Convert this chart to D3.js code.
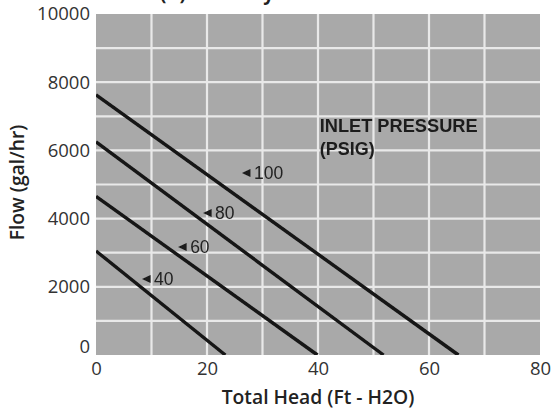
<!DOCTYPE html>
<html>
<head>
<meta charset="utf-8">
<script src="https://cdn.jsdelivr.net/npm/d3@7/dist/d3.min.js"></script>
<style>
  html, body { margin: 0; padding: 0; background: #ffffff; }
  svg { display: block; }
</style>
</head>
<body>
<svg id="chart" width="556" height="411"></svg>
<script>
// ---- data ----
const pressures = [40, 60, 80, 100];               // inlet pressure (PSIG)
const headAtZeroFlow = [23.3, 39.9, 51.8, 65.3];   // total head where flow reaches 0
const flowAtZeroHead = [3050, 4650, 6250, 7630];   // flow at zero head (gal/hr)
const labelHead = [8.3, 14.8, 19.3, 26.3];          // label anchor (head)
const labelFlow = [2230, 3170, 4165, 5335];         // label anchor (flow)
const xTicks = [0, 20, 40, 60, 80];
const yTicks = [0, 2000, 4000, 6000, 8000, 10000];
const xGrid = [10, 20, 30, 40, 50, 60, 70];
const yGrid = [1000, 2000, 3000, 4000, 5000, 6000, 7000, 8000, 9000];

const series = pressures.map((p, i) => ({
  pressure: p,
  points: [{ head: 0, flow: flowAtZeroHead[i] }, { head: headAtZeroFlow[i], flow: 0 }]
}));

// ---- layout ----
const svg = d3.select("#chart");
const m = { left: 96, top: 14, right: 16, bottom: 56 };
const W = 556, H = 411;
const x = d3.scaleLinear().domain([0, 80]).range([m.left, W - m.right]);
const y = d3.scaleLinear().domain([0, 10000]).range([H - m.bottom, m.top]);

const defs = svg.append("defs");
defs.append("filter").attr("id", "soft").append("feGaussianBlur").attr("stdDeviation", 0.7);
defs.append("clipPath").attr("id", "plotclip").append("rect")
  .attr("x", x(0)).attr("y", y(10000)).attr("width", x(80) - x(0)).attr("height", y(0) - y(10000));

// title (mostly above the visible area, as in the reference)
svg.append("text")
  .attr("x", 214).attr("y", -0.5)
  .attr("text-anchor", "middle")
  .attr("font-family", "Open Sans, sans-serif").attr("font-weight", 700)
  .attr("font-size", 19).attr("fill", "#222")
  .text("Curve (A) - Flow by Head");

const plot = svg.append("g").attr("clip-path", "url(#plotclip)");
plot.append("rect")
  .attr("x", x(0)).attr("y", y(10000)).attr("width", x(80) - x(0)).attr("height", y(0) - y(10000))
  .attr("fill", "#a9a9a9");

const grid = plot.append("g").attr("filter", "url(#soft)").attr("stroke", "#e9e9e9").attr("stroke-width", 2.2);
grid.selectAll("line.v").data(xGrid).join("line").attr("class", "v")
  .attr("x1", d => x(d)).attr("x2", d => x(d)).attr("y1", y(10000)).attr("y2", y(0));
grid.selectAll("line.h").data(yGrid).join("line").attr("class", "h")
  .attr("x1", x(0)).attr("x2", x(80)).attr("y1", d => y(d)).attr("y2", d => y(d));

const line = d3.line().x(d => x(d.head)).y(d => y(d.flow));
plot.append("g").attr("filter", "url(#soft)")
  .selectAll("path").data(series).join("path")
  .attr("d", d => line(d.points))
  .attr("fill", "none").attr("stroke", "#141414").attr("stroke-width", 3.4);

// pressure labels
const labFont = "Liberation Sans, Arial, sans-serif";
const lab = plot.append("g").attr("filter", "url(#soft)");
pressures.forEach((p, i) => {
  const px = x(labelHead[i]), py = y(labelFlow[i]);
  lab.append("path")
    .attr("d", `M${px},${py} L${px + 8.5},${py - 4} L${px + 8.5},${py + 4} Z`)
    .attr("fill", "#1a1a1a");
  lab.append("text")
    .attr("x", px + 12).attr("y", py + 6.3)
    .attr("font-family", labFont)
    .attr("font-size", 17.5).attr("fill", "#222")
    .text(p);
});
lab.append("text")
  .attr("x", x(40.3)).attr("y", y(6540))
  .attr("font-family", labFont).attr("font-weight", 700)
  .attr("font-size", 17.8).attr("fill", "#1e1e1e")
  .attr("textLength", 158).attr("lengthAdjust", "spacingAndGlyphs")
  .text("INLET PRESSURE");
lab.append("text")
  .attr("x", x(40.3)).attr("y", y(5860))
  .attr("font-family", labFont).attr("font-weight", 700)
  .attr("font-size", 17.8).attr("fill", "#1e1e1e")
  .attr("textLength", 55).attr("lengthAdjust", "spacingAndGlyphs")
  .text("(PSIG)");

// axes
const tickFont = "Open Sans, sans-serif";
const yAxis = svg.append("g")
  .attr("transform", `translate(${x(0)},0)`)
  .call(d3.axisLeft(y).tickValues(yTicks).tickSize(0).tickPadding(6).tickFormat(d3.format("d")));
yAxis.select(".domain").remove();
yAxis.selectAll("text")
  .attr("font-family", tickFont).attr("font-size", 18.5).attr("fill", "#333")
  .attr("dy", d => d === 0 ? "-0.15em" : "0.32em");

const xAxis = svg.append("g")
  .attr("transform", `translate(0,${y(0)})`)
  .call(d3.axisBottom(x).tickValues(xTicks).tickSize(0).tickPadding(7).tickFormat(d3.format("d")));
xAxis.select(".domain").remove();
xAxis.selectAll("text")
  .attr("font-family", tickFont).attr("font-size", 18.5).attr("fill", "#333");

svg.append("text")
  .attr("x", (x(0) + x(80)) / 2).attr("y", 404)
  .attr("text-anchor", "middle")
  .attr("font-family", tickFont).attr("font-weight", 600)
  .attr("font-size", 19.3).attr("fill", "#222")
  .text("Total Head (Ft - H2O)");

svg.append("text")
  .attr("transform", `translate(24,${(y(0) + y(10000)) / 2 - 2}) rotate(-90)`)
  .attr("text-anchor", "middle")
  .attr("font-family", tickFont).attr("font-weight", 600)
  .attr("font-size", 19.3).attr("fill", "#222")
  .text("Flow (gal/hr)");
</script>
</body>
</html>
